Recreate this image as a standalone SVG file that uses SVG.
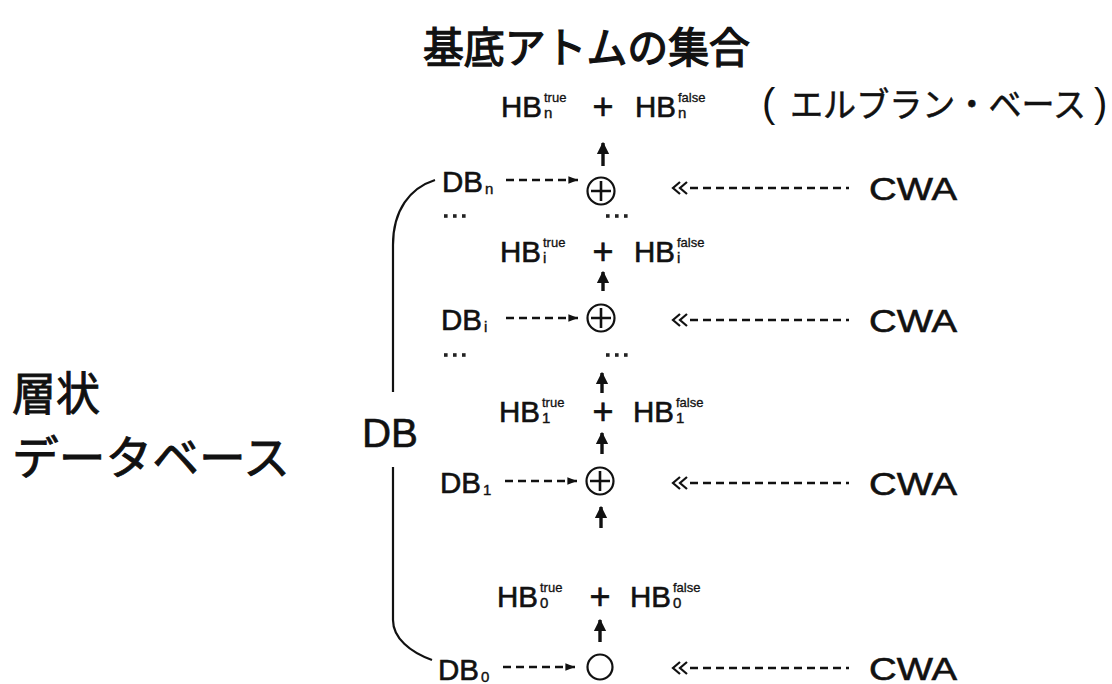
<svg xmlns="http://www.w3.org/2000/svg" width="1112" height="684" viewBox="0 0 1112 684">
<style>
.jp{font-family:"Noto Sans CJK JP","Noto Sans",sans-serif;fill:#111}
.la{font-family:"Liberation Sans","DejaVu Sans",sans-serif;fill:#111;stroke:#111;stroke-width:0.6}
.par{font-family:"Liberation Sans","DejaVu Sans",sans-serif;fill:#111;font-size:40px}
.hb{font-size:29px}
.pl{font-size:36px}
.sm{font-size:13px;stroke-width:0.3}
.sb{font-size:15px;stroke-width:0.4}
.dash{stroke:#111;stroke-width:2.4;stroke-dasharray:8 5;fill:none}
.up{stroke:#111;stroke-width:3.4;fill:none}
.ln{stroke:#111;stroke-width:2.2;fill:none}
</style>
<defs>
<marker id="ah" viewBox="0 0 10 10" refX="10" refY="5" markerWidth="5" markerHeight="4" orient="auto" markerUnits="strokeWidth"><path d="M0,1 L10,5 L0,9 Z" fill="#111"/></marker>
<marker id="uh" viewBox="0 0 10 10" refX="9" refY="5" markerWidth="3.6" markerHeight="4.2" orient="auto" markerUnits="strokeWidth"><path d="M0,0 L10,5 L0,10 Z" fill="#111"/></marker>
<g id="plus"><circle cx="0" cy="0" r="13.5" fill="none" stroke="#111" stroke-width="2.2"/><path d="M-10,0H10M0,-10V10" stroke="#111" stroke-width="2.6"/></g>
<g id="cwa"><path d="M680,-6 L673,0 L680,6 M687,-6 L680,0 L687,6" stroke="#111" stroke-width="2.2" fill="none"/><line x1="690" y1="0" x2="849" y2="0" class="dash" stroke-dasharray="9 5"/><text x="869" y="12" class="la" font-size="32" textLength="88" lengthAdjust="spacingAndGlyphs">CWA</text></g>
<g id="dots"><rect x="444" y="-1.8" width="3.6" height="3.6" fill="#222"/><rect x="453" y="-1.8" width="3.6" height="3.6" fill="#222"/><rect x="462" y="-1.8" width="3.6" height="3.6" fill="#222"/></g>
</defs>
<rect width="1112" height="684" fill="#fff"/>

<g id="title"><text x="423" y="63" class="jp" font-size="42" stroke="#111" stroke-width="1.3" textLength="327" lengthAdjust="spacingAndGlyphs">基底アトムの集合</text></g>
<g id="layered"><text x="12" y="410" class="jp" font-size="46" stroke="#111" stroke-width="0.9" textLength="88" lengthAdjust="spacingAndGlyphs">層状</text><text x="12" y="474" class="jp" font-size="46" stroke="#111" stroke-width="0.9" textLength="278" lengthAdjust="spacingAndGlyphs">データベース</text></g>
<g id="db"><text x="362" y="447" class="la" font-size="40" textLength="56" lengthAdjust="spacingAndGlyphs">DB</text></g>
<g id="herbrand"><text x="762" y="117" class="par">(</text><text x="790" y="117" class="jp" font-size="34" stroke="#111" stroke-width="0.5" textLength="296" lengthAdjust="spacingAndGlyphs">エルブラン・ベース</text><text x="1094" y="117" class="par">)</text></g>

<g id="hb-n">
<text x="501" y="117" class="la hb" textLength="41" lengthAdjust="spacingAndGlyphs">HB</text><text x="544" y="102" class="la sm">true</text><text x="544" y="118" class="la sb">n</text>
<text x="603" y="119" class="la pl" text-anchor="middle">+</text>
<text x="635" y="117" class="la hb" textLength="41" lengthAdjust="spacingAndGlyphs">HB</text><text x="678" y="102" class="la sm">false</text><text x="678" y="118" class="la sb">n</text>
</g>
<g id="hb-i">
<text x="500" y="262" class="la hb" textLength="41" lengthAdjust="spacingAndGlyphs">HB</text><text x="543" y="247" class="la sm">true</text><text x="543" y="263" class="la sb">i</text>
<text x="603" y="264" class="la pl" text-anchor="middle">+</text>
<text x="634" y="262" class="la hb" textLength="41" lengthAdjust="spacingAndGlyphs">HB</text><text x="677" y="247" class="la sm">false</text><text x="677" y="263" class="la sb">i</text>
</g>
<g id="hb-1">
<text x="499" y="422" class="la hb" textLength="41" lengthAdjust="spacingAndGlyphs">HB</text><text x="542" y="407" class="la sm">true</text><text x="542" y="423" class="la sb">1</text>
<text x="603" y="424" class="la pl" text-anchor="middle">+</text>
<text x="633" y="422" class="la hb" textLength="41" lengthAdjust="spacingAndGlyphs">HB</text><text x="676" y="407" class="la sm">false</text><text x="676" y="423" class="la sb">1</text>
</g>
<g id="hb-0">
<text x="497" y="607" class="la hb" textLength="41" lengthAdjust="spacingAndGlyphs">HB</text><text x="540" y="592" class="la sm">true</text><text x="540" y="608" class="la sb">0</text>
<text x="600" y="609" class="la pl" text-anchor="middle">+</text>
<text x="630" y="607" class="la hb" textLength="41" lengthAdjust="spacingAndGlyphs">HB</text><text x="673" y="592" class="la sm">false</text><text x="673" y="608" class="la sb">0</text>
</g>

<g id="db-n"><text x="442" y="192" class="la hb" textLength="41" lengthAdjust="spacingAndGlyphs">DB</text><text x="485" y="194" class="la sb">n</text></g>
<g id="db-i"><text x="441" y="330" class="la hb" textLength="41" lengthAdjust="spacingAndGlyphs">DB</text><text x="484" y="332" class="la sb">i</text></g>
<g id="db-1"><text x="440" y="493" class="la hb" textLength="41" lengthAdjust="spacingAndGlyphs">DB</text><text x="483" y="495" class="la sb">1</text></g>
<g id="db-0"><text x="438" y="680" class="la hb" textLength="41" lengthAdjust="spacingAndGlyphs">DB</text><text x="481" y="682" class="la sb">0</text></g>

<g id="op-n"><use href="#plus" x="601" y="191"/></g>
<g id="op-i"><use href="#plus" x="601" y="318"/></g>
<g id="op-1"><use href="#plus" x="600" y="481"/></g>
<g id="op-0"><circle cx="600" cy="667" r="12.5" fill="none" stroke="#111" stroke-width="2.2"/></g>

<g id="cwa-n"><use href="#cwa" y="188"/></g>
<g id="cwa-i"><use href="#cwa" y="320"/></g>
<g id="cwa-1"><use href="#cwa" y="483"/></g>
<g id="cwa-0"><use href="#cwa" y="668"/></g>

<g id="ellipses">
<use href="#dots" y="216"/><use href="#dots" x="162" y="216"/>
<use href="#dots" y="355"/><use href="#dots" x="162" y="355"/>
</g>

<g id="connectors">
<line x1="506" y1="180" x2="578" y2="180" class="dash" marker-end="url(#ah)"/>
<line x1="506" y1="318" x2="578" y2="318" class="dash" marker-end="url(#ah)"/>
<line x1="505" y1="481" x2="577" y2="481" class="dash" marker-end="url(#ah)"/>
<line x1="503" y1="667" x2="575" y2="667" class="dash" marker-end="url(#ah)"/>
<line x1="603" y1="166" x2="603" y2="143" class="up" marker-end="url(#uh)"/>
<line x1="603" y1="291" x2="603" y2="272" class="up" marker-end="url(#uh)"/>
<line x1="602" y1="393" x2="602" y2="373" class="up" marker-end="url(#uh)"/>
<line x1="602" y1="454" x2="602" y2="433" class="up" marker-end="url(#uh)"/>
<line x1="601" y1="528" x2="601" y2="507" class="up" marker-end="url(#uh)"/>
<line x1="600" y1="642" x2="600" y2="620" class="up" marker-end="url(#uh)"/>
<path d="M435,180 C410,188 393,210 393,245 V392" class="ln"/>
<path d="M393,467 V620 C393,638 410,652 432,660" class="ln"/>
</g>
</svg>
